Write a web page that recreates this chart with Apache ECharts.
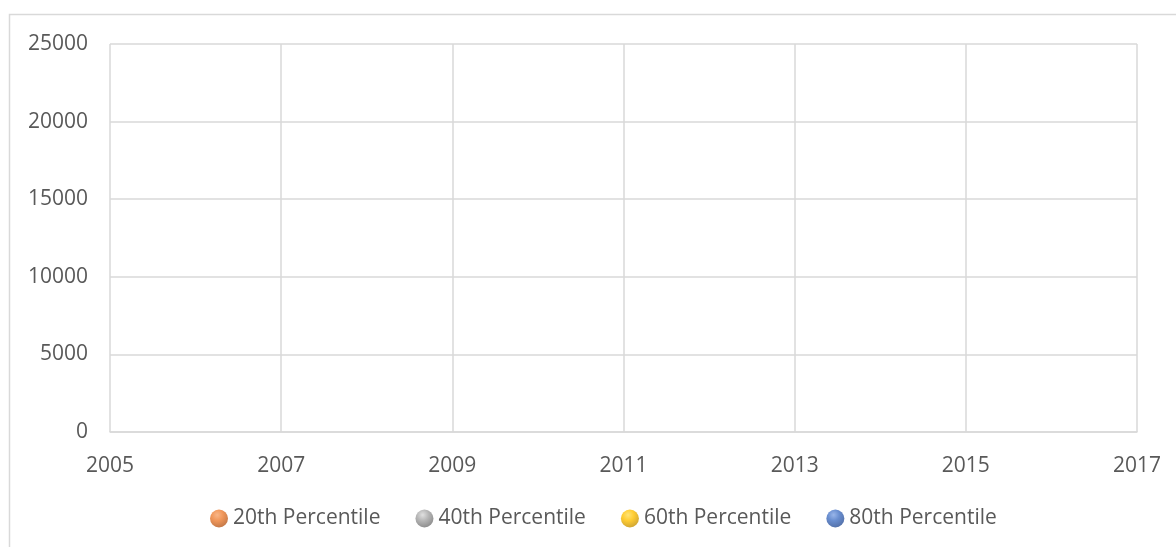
<!DOCTYPE html>
<html>
<head>
<meta charset="utf-8">
<script src="https://cdn.jsdelivr.net/npm/echarts@6/dist/echarts.min.js"></script>
<style>
html,body{margin:0;padding:0;background:#fff;}
#chart{width:1176px;height:547px;}
</style>
</head>
<body>
<div id="chart"></div>
<script>
// Data (the reference chart shows no plotted points)
const seriesNames = ['20th Percentile', '40th Percentile', '60th Percentile', '80th Percentile'];
const p20 = [];
const p40 = [];
const p60 = [];
const p80 = [];
const xTicks = [2005, 2007, 2009, 2011, 2013, 2015, 2017];
const yTicks = [0, 5000, 10000, 15000, 20000, 25000];

const baseColors = ['#ED7D31', '#A5A5A5', '#FFC000', '#4472C4'];
const lightColors = ['#F7A46A', '#D8D8D8', '#FFDD55', '#7FA3E4'];
const darkColors = ['#A94F16', '#666666', '#B88600', '#23468A'];

function sphere(i) {
  return {
    type: 'radial', x: 0.4, y: 0.3, r: 0.8,
    colorStops: [
      { offset: 0, color: lightColors[i] },
      { offset: 0.4, color: baseColors[i] },
      { offset: 1, color: darkColors[i] }
    ]
  };
}

const allData = [p20, p40, p60, p80];
const chart = echarts.init(document.getElementById('chart'));
const labelFont = { color: '#595959', fontSize: 21, fontFamily: 'Open Sans' };

chart.setOption({
  animation: false,
  backgroundColor: '#ffffff',
  graphic: [{
    type: 'rect',
    shape: { x: 9.5, y: 14.5, width: 1300, height: 700 },
    style: { fill: 'none', stroke: '#d9d9d9', lineWidth: 1.5 },
    silent: true
  }],
  grid: { left: 110, right: 39, top: 44, bottom: 115 },
  legend: {
    left: 205,
    top: 503,
    itemWidth: 18,
    itemHeight: 18,
    itemGap: 35,
    icon: 'circle',
    textStyle: labelFont,
    data: seriesNames
  },
  xAxis: {
    type: 'value',
    min: xTicks[0],
    max: xTicks[xTicks.length - 1],
    interval: 2,
    axisLine: { show: true, lineStyle: { color: '#d9d9d9', width: 1.5 } },
    axisTick: { show: false },
    splitLine: { show: true, lineStyle: { color: '#d9d9d9', width: 1.5 } },
    axisLabel: Object.assign({ margin: 24, formatter: v => String(v) }, labelFont)
  },
  yAxis: {
    type: 'value',
    min: yTicks[0],
    max: yTicks[yTicks.length - 1],
    interval: 5000,
    axisLine: { show: false },
    axisTick: { show: false },
    splitLine: { show: true, lineStyle: { color: '#d9d9d9', width: 1.5 } },
    axisLabel: Object.assign({ margin: 22, formatter: v => String(v) }, labelFont)
  },
  series: seriesNames.map((name, i) => ({
    name: name,
    type: 'scatter',
    symbolSize: 18,
    itemStyle: { color: sphere(i) },
    data: allData[i]
  }))
});
</script>
</body>
</html>
